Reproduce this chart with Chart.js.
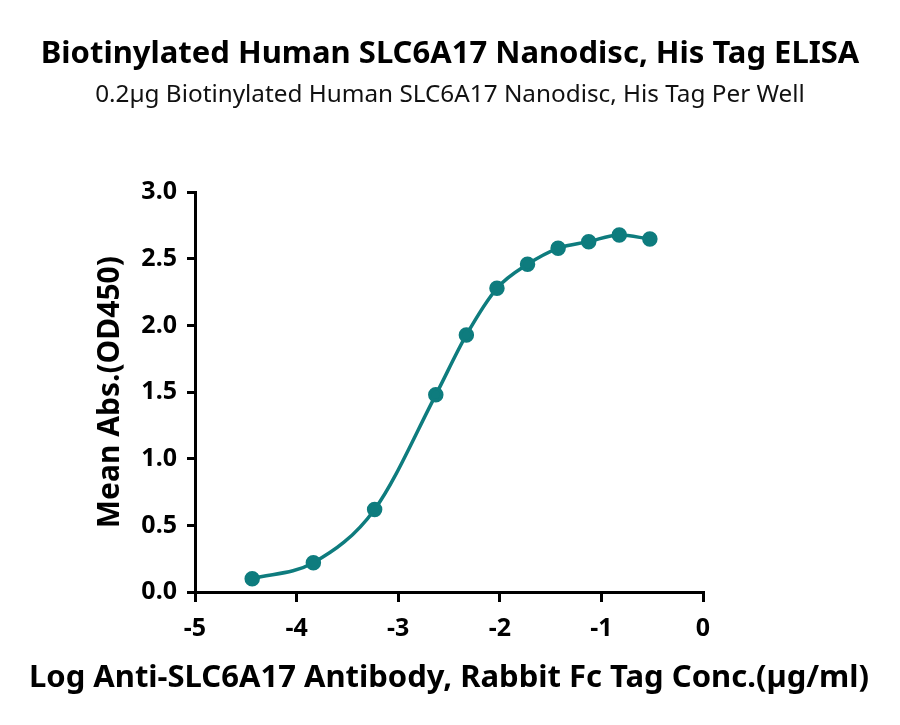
<!DOCTYPE html>
<html>
<head>
<meta charset="utf-8">
<script src="https://cdn.jsdelivr.net/npm/chart.js@4.4.0/dist/chart.umd.min.js"></script>
<style>
  html, body { margin: 0; padding: 0; background: #fff; }
  #wrap { width: 900px; height: 725px; position: relative; }
</style>
</head>
<body>
<div id="wrap"><canvas id="chart"></canvas></div>
<script>
// log10 concentration (µg/ml) and mean OD450
const logConc = [-4.437, -3.835, -3.232, -2.630, -2.329, -2.028, -1.727, -1.426, -1.125, -0.824, -0.523];
const meanAbs = [0.10, 0.22, 0.62, 1.48, 1.93, 2.28, 2.46, 2.58, 2.63, 2.68, 2.65];
const xTicks = [-5, -4, -3, -2, -1, 0];
const yTicks = [0, 0.5, 1.0, 1.5, 2.0, 2.5, 3.0];

const xTitle = "Log Anti-SLC6A17 Antibody, Rabbit Fc Tag Conc.(µg/ml)";
const teal = "#0e7c7e";
const fontFamily = "'Noto Sans', 'Open Sans', sans-serif";

const points = logConc.map((x, i) => ({ x: x, y: meanAbs[i] }));

// the built-in axis title gets squeezed to the plot width, so the x title
// is written here instead (it is wider than the plot in the original)
const xTitlePlugin = {
  id: "xTitle",
  afterDraw(chart) {
    const { ctx, chartArea } = chart;
    ctx.save();
    ctx.font = "bold 31px " + fontFamily;
    ctx.fillStyle = "#000";
    ctx.textAlign = "center";
    ctx.textBaseline = "alphabetic";
    ctx.fillText(xTitle, (chartArea.left + chartArea.right) / 2, 687);
    ctx.restore();
  },
};

const ctx = document.getElementById("chart").getContext("2d");
new Chart(ctx, {
  type: "scatter",
  data: {
    datasets: [
      {
        data: points,
        showLine: true,
        borderColor: teal,
        borderWidth: 3.5,
        cubicInterpolationMode: "monotone",
        pointBackgroundColor: teal,
        pointBorderColor: teal,
        pointRadius: 6,
      },
    ],
  },
  plugins: [xTitlePlugin],
  options: {
    responsive: true,
    maintainAspectRatio: false,
    animation: false,
    layout: {
      padding: 0,
    },
    scales: {
      x: {
        type: "linear",
        min: -5,
        max: 0,
        afterBuildTicks: (axis) => {
          axis.ticks = xTicks.map((v) => ({ value: v }));
        },
        afterFit: (axis) => {
          axis.height = 133;
        },
        grid: {
          drawOnChartArea: false,
          drawTicks: true,
          tickLength: 10,
          lineWidth: 3,
          color: "#000",
        },
        border: { display: true, width: 3, color: "#000" },
        ticks: {
          color: "#000",
          padding: 12,
          font: { family: fontFamily, size: 25, weight: "bold" },
        },
      },
      y: {
        type: "linear",
        min: 0,
        max: 3,
        afterBuildTicks: (axis) => {
          axis.ticks = yTicks.map((v) => ({ value: v }));
        },
        afterFit: (axis) => {
          axis.width = 195;
        },
        grid: {
          drawOnChartArea: false,
          drawTicks: true,
          tickLength: 8,
          lineWidth: 3,
          color: "#000",
        },
        border: { display: true, width: 3, color: "#000" },
        ticks: {
          color: "#000",
          padding: 10,
          callback: (v) => Number(v).toFixed(1),
          font: { family: fontFamily, size: 25, weight: "bold" },
        },
        title: {
          display: true,
          text: "Mean Abs.(OD450)",
          color: "#000",
          padding: { top: 92, bottom: 0 },
          font: { family: fontFamily, size: 30, weight: "bold" },
        },
      },
      // empty right-hand axis, only reserves the white margin
      yRight: {
        type: "linear",
        position: "right",
        display: true,
        grid: { display: false },
        border: { display: false },
        ticks: { display: false },
        afterFit: (axis) => {
          axis.width = 197;
        },
      },
    },
    plugins: {
      legend: { display: false },
      tooltip: { enabled: false },
      title: {
        display: true,
        text: "Biotinylated Human SLC6A17 Nanodisc, His Tag ELISA",
        color: "#000",
        padding: { top: 36, bottom: 0 },
        font: { family: fontFamily, size: 31, weight: "bold" },
      },
      subtitle: {
        display: true,
        text: "0.2µg Biotinylated Human SLC6A17 Nanodisc, His Tag Per Well",
        color: "#111",
        padding: { top: 7, bottom: 83 },
        font: { family: fontFamily, size: 24.3, weight: "normal" },
      },
    },
  },
});
</script>
</body>
</html>
